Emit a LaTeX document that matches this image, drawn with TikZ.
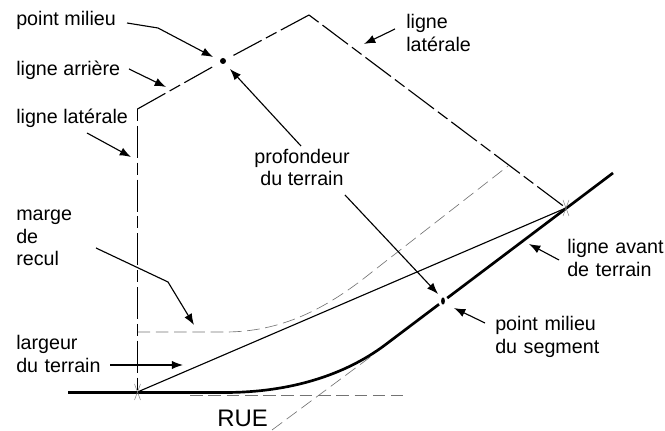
\documentclass[tikz,border=0pt]{standalone}
\usepackage{fontspec}
\setmainfont{Liberation Sans}
\usetikzlibrary{arrows.meta,positioning}
\tikzset{
  lab/.style={anchor=base west,align=left,inner sep=0pt,font=\fontsize{14}{16}\selectfont},
  pointer/.style={-{Latex[length=8pt,width=6pt]},line width=0.8pt},
  lotline/.style={line width=0.8pt,dash pattern=on 22.7pt off 3.5pt on 8.5pt off 3.5pt},
  lotshort/.style={lotline,dash phase=26.2pt},
  guide/.style={line width=0.45pt,black!55,dash pattern=on 9pt off 4pt},
  frontline/.style={line width=1.9pt},
  tick/.style={line width=0.35pt,gray},
}
\begin{document}
\begin{tikzpicture}[x=0.025cm,y=-0.025cm]
\useasboundingbox (0,0) rectangle (665,431);
% Lot corners
\coordinate (backleft) at (137.5,109);
\coordinate (apex) at (309,15);
\coordinate (frontleft) at (137.5,392);
\coordinate (frontright) at (566,208);
\coordinate (backmid) at (223,61);
\coordinate (frontmid) at (443,301);
% Labels
\node[lab] (milieu) at (16,26) {point milieu};
\node[lab] (arriere) at (16,76) {ligne arrière};
\node[lab] (latgauche) at (16,124) {ligne latérale};
\node[lab,text width=80pt] (latdroite) at (406,29) {ligne\\latérale};
\node[lab,text width=50pt] (marge) at (16,221) {marge\\de\\recul};
\node[lab,text width=80pt] (largeur) at (16,350) {largeur\\du terrain};
\node[lab,align=center,anchor=base] (profondeur) at (302,186) {profondeur\\du terrain};
\node[lab,text width=80pt] (avant) at (567,254) {ligne avant\\de terrain};
\node[lab,text width=90pt] (segment) at (495,331) {point milieu\\du segment};
\node[lab,font=\fontsize{17}{18}\selectfont] (rue) at (217,427) {RUE};
% Setback guides
\draw[guide] (137.5,332) -- (225,332) .. controls (280,332) and (325,310) .. (372,272) -- (508,166);
\draw[guide] (190,395) -- (403,395);
\draw[guide] (272,430) -- (373,355);
% Lot lines
\draw[lotline,shorten >=6.5pt] (backleft) -- (backmid);
\draw[lotline,shorten >=6.5pt] (apex) -- (backmid);
\draw[lotshort] (apex) -- (frontright);
\draw[lotshort] (backleft) -- (frontleft);
\draw[line width=0.8pt] (frontleft) -- (frontright);
% Front line
\draw[frontline] (68,392.5) -- (225,392.5) .. controls (290,392.5) and (345,375) .. (385,345) -- (613,173);
% Corner ticks
\foreach \c in {frontleft,frontright} {
  \draw[tick] (\c) ++(-3,-8) -- ++(6,16);
  \draw[tick] (\c) ++(3,-8) -- ++(-6,16);
}
% Midpoints
\fill (backmid) circle (3);
\draw[white,line width=3pt] (439,304) -- (447,298);
\fill (frontmid) ellipse (1.9 and 3.6);
% Pointers
\coordinate (a1) at (127,23);
\draw[pointer] (a1) -- (158,28) -- (213,57);
\coordinate (a2) at (129,69);
\draw[pointer] (a2) -- (166,87);
\coordinate (a3) at (87,133);
\draw[pointer] (a3) -- (131,157);
\coordinate (a4) at (395,29);
\draw[pointer] (a4) -- (364,44);
\coordinate (a5) at (301,146);
\draw[pointer] (a5) -- (230,69);
\coordinate (a6) at (345,195);
\draw[pointer] (a6) -- (438,294);
\coordinate (a7) at (96,248);
\draw[pointer] (a7) -- (168,282) -- (194,325);
\coordinate (a8) at (110,365);
\draw[pointer] (a8) -- (183,365);
\coordinate (a9) at (559,260);
\draw[pointer] (a9) -- (529,244);
\coordinate (a10) at (485,323);
\draw[pointer] (a10) -- (454,308);
\end{tikzpicture}
\end{document}
